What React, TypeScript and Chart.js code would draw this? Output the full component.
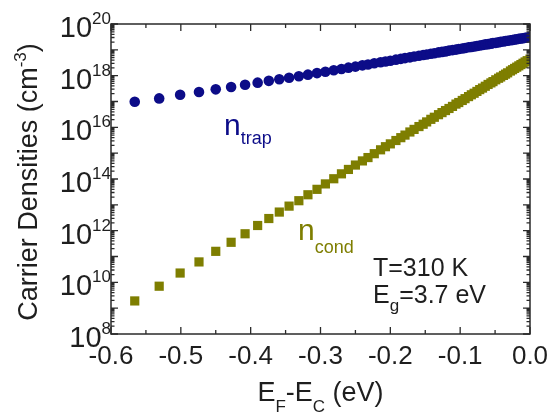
import React, { useEffect, useRef } from "react";
import { Chart, registerables } from "chart.js";
Chart.register(...registerables);

// E_F - E_C (eV) for each computed point
const eFminusEc = [
  -0.566, -0.531, -0.501, -0.474, -0.45, -0.428, -0.408, -0.39, -0.374, -0.359,
  -0.345, -0.331, -0.318, -0.305, -0.293, -0.281, -0.27, -0.26, -0.25, -0.24,
  -0.232, -0.223, -0.214, -0.207, -0.2, -0.192, -0.185, -0.179, -0.172, -0.166,
  -0.159, -0.153, -0.148, -0.142, -0.137, -0.131, -0.126, -0.121, -0.116, -0.111,
  -0.106, -0.102, -0.097, -0.093, -0.088, -0.084, -0.08, -0.076, -0.072, -0.068,
  -0.064, -0.06, -0.056, -0.053, -0.049, -0.045, -0.042, -0.038, -0.035, -0.032,
  -0.028, -0.025, -0.022, -0.019, -0.016, -0.013, -0.01, -0.007, -0.004, 0.0,
];

// log10 of trapped carrier density (cm^-3)
const nTrapLog10 = [
  16.99, 17.12, 17.26, 17.37, 17.47, 17.56, 17.65, 17.73, 17.8, 17.86,
  17.92, 17.98, 18.04, 18.1, 18.15, 18.21, 18.26, 18.31, 18.35, 18.4,
  18.43, 18.48, 18.52, 18.55, 18.58, 18.62, 18.65, 18.68, 18.71, 18.74,
  18.77, 18.8, 18.82, 18.85, 18.87, 18.9, 18.92, 18.94, 18.97, 18.99,
  19.01, 19.03, 19.05, 19.07, 19.1, 19.11, 19.13, 19.15, 19.17, 19.19,
  19.21, 19.22, 19.24, 19.26, 19.27, 19.29, 19.31, 19.32, 19.34, 19.35,
  19.37, 19.38, 19.4, 19.41, 19.43, 19.44, 19.45, 19.47, 19.48, 19.5,
];

// log10 of conduction-band carrier density (cm^-3)
const nCondLog10 = [
  9.28, 9.85, 10.36, 10.79, 11.2, 11.55, 11.88, 12.2, 12.47, 12.72,
  12.95, 13.16, 13.39, 13.6, 13.81, 14.01, 14.2, 14.37, 14.54, 14.7,
  14.83, 14.98, 15.13, 15.25, 15.36, 15.49, 15.6, 15.7, 15.82, 15.92,
  16.03, 16.12, 16.21, 16.31, 16.39, 16.49, 16.57, 16.65, 16.73, 16.81,
  16.9, 16.96, 17.04, 17.11, 17.19, 17.26, 17.32, 17.39, 17.46, 17.52,
  17.59, 17.66, 17.72, 17.77, 17.84, 17.9, 17.95, 18.01, 18.06, 18.11,
  18.18, 18.23, 18.28, 18.33, 18.38, 18.43, 18.48, 18.53, 18.58, 18.64,
];

const xTickValues = [-0.6, -0.5, -0.4, -0.3, -0.2, -0.1, 0.0];
const xTickLabels = ["-0.6", "-0.5", "-0.4", "-0.3", "-0.2", "-0.1", "0.0"];
const yTickExponents = [8, 10, 12, 14, 16, 18, 20];

const NAVY = "#0c0c88";
const OLIVE = "#7e7e00";
const INK = "#1e1e1e";
const FONT = '"Liberation Sans", Arial, sans-serif';

type Seg = { t: string; size: number; dy?: number };

function segsWidth(ctx: CanvasRenderingContext2D, segs: Seg[]) {
  let w = 0;
  for (const s of segs) {
    ctx.font = `${s.size}px ${FONT}`;
    w += ctx.measureText(s.t).width;
  }
  return w;
}

function drawSegs(
  ctx: CanvasRenderingContext2D,
  segs: Seg[],
  x: number,
  y: number,
  color: string,
  align: "left" | "center" | "right",
  rotate = false
) {
  const w = segsWidth(ctx, segs);
  ctx.save();
  ctx.translate(x, y);
  if (rotate) ctx.rotate(-Math.PI / 2);
  let cx = align === "left" ? 0 : align === "center" ? -w / 2 : -w;
  ctx.fillStyle = color;
  ctx.textAlign = "left";
  ctx.textBaseline = "alphabetic";
  for (const s of segs) {
    ctx.font = `${s.size}px ${FONT}`;
    ctx.fillText(s.t, cx, s.dy || 0);
    cx += ctx.measureText(s.t).width;
  }
  ctx.restore();
}

const framePlugin = {
  id: "frame",
  afterDraw(chart: any) {
    const ctx: CanvasRenderingContext2D = chart.ctx;
    const { left, right, top, bottom } = chart.chartArea;
    const xs = chart.scales.x;
    const ys = chart.scales.y;
    ctx.save();
    ctx.strokeStyle = "#2a2a2a";
    ctx.lineWidth = 1.5;
    ctx.strokeRect(left, top, right - left, bottom - top);

    ctx.lineWidth = 1.3;
    ctx.beginPath();
    // x ticks (major every 0.1, minor every 0.05), inward on bottom and top
    for (let i = 0; i <= 12; i++) {
      const v = -0.6 + i * 0.05;
      const px = xs.getPixelForValue(v);
      const len = i % 2 === 0 ? 7 : 4;
      ctx.moveTo(px, bottom);
      ctx.lineTo(px, bottom - len);
      ctx.moveTo(px, top);
      ctx.lineTo(px, top + len);
    }
    // y ticks: decades major, 2..9 minor, inward left and right
    for (let e = 8; e <= 20; e++) {
      const py = ys.getPixelForValue(Math.pow(10, e));
      ctx.moveTo(left, py);
      ctx.lineTo(left + 7, py);
      ctx.moveTo(right, py);
      ctx.lineTo(right - 7, py);
      if (e < 20) {
        for (let k = 2; k <= 9; k++) {
          const pm = ys.getPixelForValue(k * Math.pow(10, e));
          ctx.moveTo(left, pm);
          ctx.lineTo(left + 3.5, pm);
          ctx.moveTo(right, pm);
          ctx.lineTo(right - 3.5, pm);
        }
      }
    }
    ctx.stroke();

    // x tick labels
    xTickValues.forEach((v, i) => {
      const px = xs.getPixelForValue(v);
      drawSegs(ctx, [{ t: xTickLabels[i], size: 26 }], px, bottom + 30, INK, "center");
    });
    // y tick labels 10^n
    yTickExponents.forEach((e) => {
      const py = ys.getPixelForValue(Math.pow(10, e));
      drawSegs(
        ctx,
        [
          { t: "10", size: 29, dy: 13 },
          { t: String(e), size: 17, dy: 0 },
        ],
        left,
        py,
        INK,
        "right"
      );
    });

    // x axis title
    drawSegs(
      ctx,
      [
        { t: "E", size: 27 },
        { t: "F", size: 17, dy: 11 },
        { t: "-E", size: 27 },
        { t: "C", size: 17, dy: 11 },
        { t: " (eV)", size: 27 },
      ],
      (left + right) / 2,
      401,
      INK,
      "center"
    );
    // y axis title
    drawSegs(
      ctx,
      [
        { t: "Carrier Densities (cm", size: 27 },
        { t: "-3", size: 17, dy: -11 },
        { t: ")", size: 27 },
      ],
      37,
      (top + bottom) / 2 + 3,
      INK,
      "center",
      true
    );

    // annotations
    drawSegs(ctx, [{ t: "n", size: 30 }, { t: "trap", size: 18, dy: 9 }], 224, 135, NAVY, "left");
    drawSegs(ctx, [{ t: "n", size: 30 }, { t: "cond", size: 18, dy: 13 }], 298, 240, OLIVE, "left");
    drawSegs(ctx, [{ t: "T=310 K", size: 25 }], 373, 276, INK, "left");
    drawSegs(
      ctx,
      [
        { t: "E", size: 25 },
        { t: "g", size: 17, dy: 8 },
        { t: "=3.7 eV", size: 25 },
      ],
      373,
      303,
      INK,
      "left"
    );
    ctx.restore();
  },
};

export default function App() {
  const ref = useRef<HTMLCanvasElement | null>(null);
  useEffect(() => {
    if (!ref.current) return;
    const chart = new Chart(ref.current, {
      type: "scatter",
      data: {
        datasets: [
          {
            label: "n_cond",
            data: eFminusEc.map((x, i) => ({ x, y: Math.pow(10, nCondLog10[i]) })),
            pointStyle: "rect",
            pointRadius: 6.5,
            backgroundColor: OLIVE,
            borderWidth: 0,
          },
          {
            label: "n_trap",
            data: eFminusEc.map((x, i) => ({ x, y: Math.pow(10, nTrapLog10[i]) })),
            pointStyle: "circle",
            pointRadius: 5.3,
            backgroundColor: NAVY,
            borderWidth: 0,
          },
        ],
      },
      options: {
        animation: false,
        responsive: false,
        maintainAspectRatio: false,
        layout: { padding: { left: 111, right: 22, top: 24, bottom: 82 } },
        scales: {
          x: { type: "linear", min: -0.6, max: 0, display: false },
          y: { type: "logarithmic", min: 1e8, max: 1e20, display: false },
        },
        plugins: { legend: { display: false }, tooltip: { enabled: false } },
      },
      plugins: [framePlugin],
    });
    return () => chart.destroy();
  }, []);
  return (
    <div style={{ position: "absolute", left: 0, top: 0, width: 552, height: 416, background: "#fff" }}>
      <canvas ref={ref} width={552} height={416} style={{ width: 552, height: 416 }} />
    </div>
  );
}
